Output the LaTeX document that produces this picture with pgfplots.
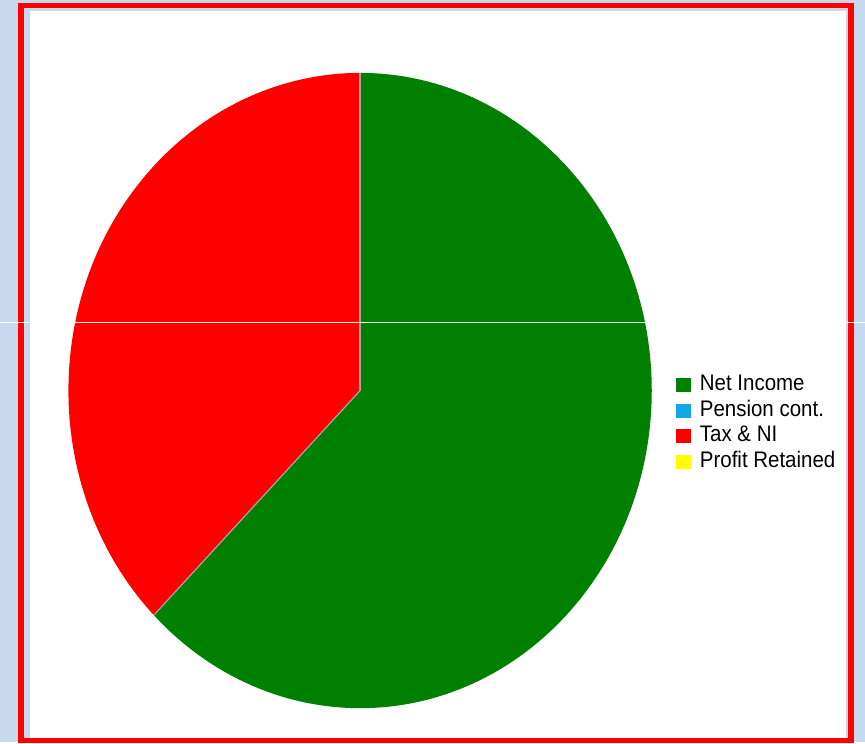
\documentclass[border=0pt]{standalone}
\usepackage{pgfplots}
\pgfplotsset{compat=1.18}
\usepackage{pgfplotstable}
\usepackage{fontspec}
\setmainfont{Liberation Sans}
\definecolor{bgblue}{HTML}{C6D9EF}
\definecolor{pgreen}{HTML}{008000}
\definecolor{pblue}{HTML}{12A6E6}
\definecolor{pred}{HTML}{FF0000}
\definecolor{pyellow}{HTML}{FFFF00}

% slice values (percent): Net Income, Pension cont., Tax & NI, Profit Retained
\pgfplotstableread{
idx value
0 62.5
1 0
2 37.5
3 0
}\piedata

\newcommand\sector[3]{\fill[#1] (axis cs:360,352) -- (axis cs:{360+292*cos(#2)},{352+318*sin(#2)}) arc[start angle=#2, end angle=#3, x radius=292pt, y radius=318pt] -- cycle;}
\newcommand\radial[1]{\draw[gray!70, line width=1.2pt] (axis cs:360,352) -- (axis cs:{360+292*cos(#1)},{352+318*sin(#1)});}
\newcommand\legtxt[1]{\hspace{4pt}\scalebox{1}[1.1]{#1}}

\begin{document}
\begin{tikzpicture}
\pgfplotstablegetelem{0}{value}\of\piedata \let\vA\pgfplotsretval
\pgfplotstablegetelem{1}{value}\of\piedata \let\vB\pgfplotsretval
\pgfplotstablegetelem{2}{value}\of\piedata \let\vC\pgfplotsretval
\pgfplotstablegetelem{3}{value}\of\piedata \let\vD\pgfplotsretval
\pgfmathsetmacro\aA{90}
\pgfmathsetmacro\aB{\aA-3.6*\vA}
\pgfmathsetmacro\aC{\aB-3.6*\vB}
\pgfmathsetmacro\aD{\aC-3.6*\vC}
\pgfmathsetmacro\aE{\aD-3.6*\vD}
\begin{axis}[
  scale only axis, width=865pt, height=743pt,
  xmin=0, xmax=865, ymin=0, ymax=743,
  axis lines=none, ticks=none, clip=false,
  legend style={at={(axis cs:676,368)}, anchor=north west, draw=none, fill=none,
    font=\fontsize{20.5}{22}\selectfont, inner sep=0pt, row sep=4.5pt,
    nodes={inner ysep=0pt, inner xsep=5pt, text height=16pt, text depth=5pt}},
  legend cell align=left,
  /pgfplots/legend image code/.code={\fill[#1, draw=none] (0pt,-7pt) rectangle (15pt,7pt);},
]
% frame and background
\fill[bgblue] (axis cs:0,0) rectangle (axis cs:865,743);
\fill[white] (axis cs:30,3) rectangle (axis cs:846,732);
\draw[pred, line width=5.5pt] (axis cs:20.5,1.5) rectangle (axis cs:851.5,737.5);
% pie slices
\sector{pgreen}{\aA}{\aB}
\sector{pred}{\aC}{\aD}
\radial{\aA}
\radial{\aB}
% screenshot artefact line
\draw[white, line width=1pt] (axis cs:0,420) -- (axis cs:865,420);
\addlegendimage{fill=pgreen}\addlegendentry{\legtxt{Net Income}}
\addlegendimage{fill=pblue}\addlegendentry{\legtxt{Pension cont.}}
\addlegendimage{fill=pred}\addlegendentry{\legtxt{Tax \& NI}}
\addlegendimage{fill=pyellow}\addlegendentry{\legtxt{Profit Retained}}
\end{axis}
\end{tikzpicture}
\end{document}
